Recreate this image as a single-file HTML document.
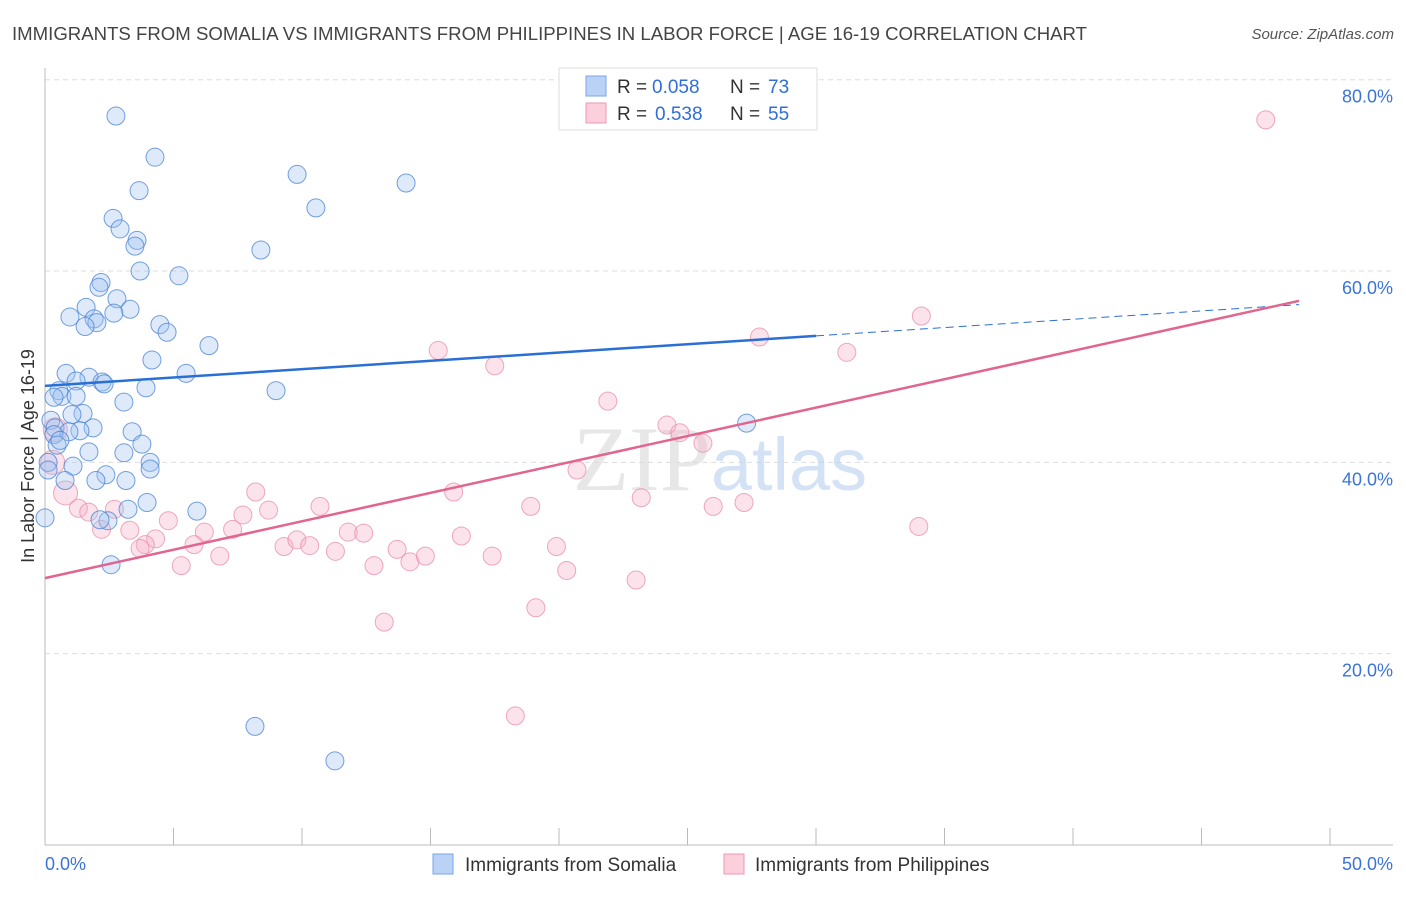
<!DOCTYPE html>
<html><head><meta charset="utf-8"><style>
body{margin:0;background:#fff;font-family:"Liberation Sans",sans-serif;}
svg text{font-family:"Liberation Sans",sans-serif;}
</style></head><body>
<svg id="chart" width="1406" height="892" viewBox="0 0 1406 892" xmlns="http://www.w3.org/2000/svg">
<text x="12" y="40" font-size="18.5" fill="#444" textLength="1075" lengthAdjust="spacingAndGlyphs">IMMIGRANTS FROM SOMALIA VS IMMIGRANTS FROM PHILIPPINES IN LABOR FORCE | AGE 16-19 CORRELATION CHART</text>
<text x="1394" y="39" font-size="15" fill="#555" text-anchor="end" font-style="italic">Source: ZipAtlas.com</text>
<g id="grid"></g>
<text x="720" y="490" font-size="90" text-anchor="middle" fill="#d8d8d8" opacity="0.6"><tspan font-family="Liberation Serif" font-size="92">ZIP</tspan><tspan fill="#b8cff0" font-size="74">atlas</tspan></text>
<line x1="45" y1="68" x2="45" y2="845" stroke="#bbb"/>
<line x1="45" y1="845" x2="1393" y2="845" stroke="#bbb"/>
<text transform="translate(34,456) rotate(-90)" font-size="18" fill="#333" text-anchor="middle">In Labor Force | Age 16-19</text>
<g id="pts"></g>
<g id="trends"></g>
<g>
<rect x="559" y="68" width="258" height="62" fill="#fff" stroke="#ddd"/>
<rect x="586" y="76" width="20" height="20" fill="#b9d2f5" stroke="#7aa6e6"/>
<rect x="586" y="103" width="20" height="20" fill="#fbcfdc" stroke="#ee9ab4"/>
<text x="617" y="93" font-size="19" fill="#333">R =</text>
<text x="652" y="93" font-size="19" fill="#2f6fd6">0.058</text>
<text x="730" y="93" font-size="19" fill="#333">N =</text>
<text x="768" y="93" font-size="19" fill="#2f6fd6">73</text>
<text x="617" y="120" font-size="19" fill="#333">R =</text>
<text x="655" y="120" font-size="19" fill="#2f6fd6">0.538</text>
<text x="730" y="120" font-size="19" fill="#333">N =</text>
<text x="768" y="120" font-size="19" fill="#2f6fd6">55</text>
</g>
<g>
<rect x="433" y="854" width="20" height="20" fill="#b9d2f5" stroke="#7aa6e6"/>
<text x="465" y="871" font-size="19" fill="#333">Immigrants from Somalia</text>
<rect x="724" y="854" width="20" height="20" fill="#fbcfdc" stroke="#ee9ab4"/>
<text x="755" y="871" font-size="19" fill="#333">Immigrants from Philippines</text>
</g>
<text x="45" y="870" font-size="18" fill="#3a74d8">0.0%</text>
<text x="1393" y="870" font-size="18" fill="#3a74d8" text-anchor="end">50.0%</text>
</svg>
<script>
const yTicks=[20,40,60,80];
const yTickLabels=["20.0%","40.0%","60.0%","80.0%"];
const blueX=[2.76,4.28,3.66,9.81,14.05,10.54,2.65,2.92,3.58,3.5,8.4,3.7,5.21,2.18,2.1,2.8,1.6,3.31,0.97,2.68,1.91,2.02,4.47,1.56,4.75,4.16,6.38,0.82,1.71,1.21,5.49,2.22,2.3,3.93,8.99,0.54,0.66,0.35,1.21,3.07,1.48,1.05,0.23,0.39,1.87,1.36,0.93,3.39,0.35,3.77,1.71,3.07,4.09,4.09,1.09,0.12,2.37,0.78,1.98,3.15,27.3,0,2.45,3.97,3.23,5.91,2.57,8.17,11.28,0.47,0.58,0.12,2.14];
const blueY=[76.2,71.9,68.4,70.1,69.2,66.6,65.5,64.4,63.2,62.6,62.2,60,59.5,58.8,58.3,57.1,56.2,56,55.2,55.6,55,54.6,54.4,54.2,53.6,50.7,52.2,49.3,48.9,48.5,49.3,48.4,48.2,47.8,47.5,47.5,46.9,46.8,46.9,46.3,45.1,45,44.4,43.6,43.6,43.3,43.2,43.2,42.9,41.9,41.1,41,40,39.3,39.6,40,38.7,38.1,38.1,38.1,44.1,34.2,33.9,35.8,35.1,34.9,29.3,12.4,8.8,41.8,42.3,39.2,34];
const pinkX=[47.5,27.8,34.1,15.3,31.2,17.5,21.9,24.2,24.7,25.6,20.7,23.2,15.9,8.2,10.7,26,27.2,18.9,8.7,7.7,4.8,6.2,7.3,2.2,3.3,4.3,3.9,5.8,6.8,9.3,9.8,10.3,11.3,11.8,12.4,13.7,14.2,14.8,16.2,17.4,19.9,20.3,12.8,5.3,23,19.1,13.2,18.3,34,0.4,0.3,0.8,1.3,1.7,2.7,3.7];
const pinkY=[75.8,53.1,55.3,51.7,51.5,50.1,46.4,43.9,43.1,42,39.2,36.3,36.9,36.9,35.4,35.4,35.8,35.4,35,34.5,33.9,32.7,33,33,32.9,32,31.4,31.4,30.2,31.2,31.9,31.3,30.7,32.7,32.6,30.9,29.6,30.2,32.3,30.2,31.2,28.7,29.2,29.2,27.7,24.8,23.3,13.5,33.3,43.4,40,36.8,35.2,34.8,35.1,31];
const blueTrend=[48.0,0.174];
const pinkTrend=[27.9,0.594];
const sx=v=>45+v/50*1285;
const sy=v=>845-v/80*765.3;
const NS="http://www.w3.org/2000/svg";
function mk(tag,attrs,parent){const e=document.createElementNS(NS,tag);for(const k in attrs)e.setAttribute(k,attrs[k]);parent.appendChild(e);return e;}
const grid=document.getElementById('grid');
yTicks.forEach((t,i)=>{
 const l=mk('line',{x1:45,x2:1393,y1:sy(t),y2:sy(t),stroke:'#ddd','stroke-dasharray':'5,4'},grid);
 
 
 const tx=mk('text',{x:1393,y:sy(t)+23,'font-size':18,fill:'#3a74d8','text-anchor':'end'},grid);
 tx.textContent=yTickLabels[i];
 
 
});
for(let i=1;i<=10;i++){const tk=mk('line',{x1:sx(i*5),x2:sx(i*5),y1:828,y2:845,stroke:'#bbb'},grid);
 
 }
const pts=document.getElementById('pts');
pinkX.forEach((x,i)=>{const c=mk('circle',{cx:sx(x),cy:sy(pinkY[i]),r:i>=49&&i<=51?12:9,fill:'rgba(246,175,198,0.35)',stroke:'rgba(232,140,168,0.75)','stroke-width':1},pts);
 
 });
blueX.forEach((x,i)=>{const c=mk('circle',{cx:sx(x),cy:sy(blueY[i]),r:9,fill:'rgba(160,196,240,0.35)',stroke:'rgba(70,128,212,0.75)','stroke-width':1},pts);
 
 });
const tr=document.getElementById('trends');
const b1=mk('line',{x1:sx(0),y1:sy(blueTrend[0]),x2:sx(30),y2:sy(blueTrend[0]+blueTrend[1]*30),stroke:'#2a6fd6','stroke-width':2.5},tr);


const b2=mk('line',{x1:sx(30),y1:sy(blueTrend[0]+blueTrend[1]*30),x2:sx(48.8),y2:sy(blueTrend[0]+blueTrend[1]*48.8),stroke:'#2a6fd6','stroke-width':1,'stroke-dasharray':'8,5'},tr);


const p1=mk('line',{x1:sx(0),y1:sy(pinkTrend[0]),x2:sx(48.8),y2:sy(pinkTrend[0]+pinkTrend[1]*48.8),stroke:'#e2658f','stroke-width':2.5},tr);


</script>
</body></html>
